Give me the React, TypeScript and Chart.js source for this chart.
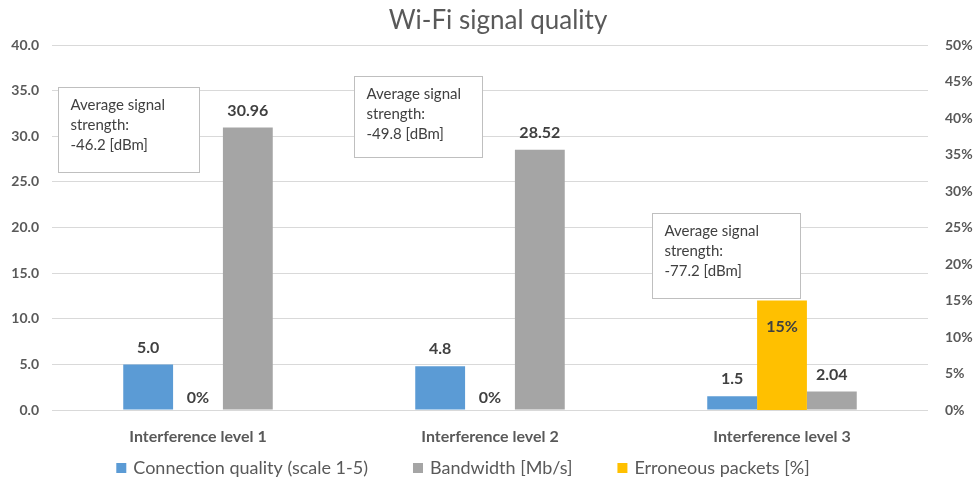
import React, { useEffect, useRef } from 'react';
import { Chart, registerables } from 'chart.js';

Chart.register(...registerables);

const categories = ['Interference level 1', 'Interference level 2', 'Interference level 3'];
const connectionQuality = [5.0, 4.8, 1.5];
const erroneousPackets = [0, 0, 15];
const bandwidth = [30.96, 28.52, 2.04];
const signalStrength = [-46.2, -49.8, -77.2];
const seriesNames = ['Connection quality (scale 1-5)', 'Erroneous packets [%]', 'Bandwidth [Mb/s]'];
const legendOrder = [0, 2, 1];

const BLUE = '#5B9BD5';
const YELLOW = '#FFC000';
const GRAY = '#A5A5A5';
const TEXT = '#595959';
const LABEL = '#404040';
const FONT = 'Lato, "Open Sans", sans-serif';

// annotation box placement: offset from category centre (px), top in left-axis units, size (px)
const boxLayout = [
  { dx: -140, top: 35.4, w: 141, h: 85 },
  { dx: -136, top: 36.6, w: 128, h: 81 },
  { dx: -130, top: 21.6, w: 148, h: 85 },
];

const formatters = [
  (v: number) => v.toFixed(1),
  (v: number) => `${v}%`,
  (v: number) => v.toFixed(2),
];

const overlayPlugin = {
  id: 'overlay',
  afterDatasetsDraw(chart: any) {
    const ctx = chart.ctx as CanvasRenderingContext2D;
    ctx.save();
    // data labels
    ctx.font = `bold 16px ${FONT}`;
    ctx.fillStyle = LABEL;
    ctx.textAlign = 'center';
    ctx.textBaseline = 'middle';
    chart.data.datasets.forEach((ds: any, di: number) => {
      const meta = chart.getDatasetMeta(di);
      meta.data.forEach((bar: any, i: number) => {
        const v = ds.data[i] as number;
        const txt = formatters[di](v);
        let y: number;
        if (di === 1) {
          const h = bar.base - bar.y;
          y = h > 40 ? bar.y + 26 : bar.base - 12;
        } else {
          y = bar.y - 17;
        }
        ctx.fillText(txt, bar.x, y);
      });
    });
    // annotation boxes
    const xs = chart.scales.x;
    const ys = chart.scales.y;
    signalStrength.forEach((s, i) => {
      const b = boxLayout[i];
      const left = Math.round(xs.getPixelForValue(i) + b.dx) + 0.5;
      const top = Math.round(ys.getPixelForValue(b.top)) + 0.5;
      ctx.fillStyle = '#FFFFFF';
      ctx.fillRect(left, top, b.w, b.h);
      ctx.strokeStyle = '#BFBFBF';
      ctx.lineWidth = 1;
      ctx.strokeRect(left, top, b.w, b.h);
      ctx.fillStyle = LABEL;
      ctx.font = `15px ${FONT}`;
      ctx.textAlign = 'left';
      ctx.textBaseline = 'middle';
      const lines = ['Average signal', 'strength:', `${s.toFixed(1)} [dBm]`];
      lines.forEach((ln, k) => ctx.fillText(ln, left + 12, top + 18 + k * 20));
    });
    ctx.restore();
  },
  afterDraw(chart: any) {
    const ctx = chart.ctx as CanvasRenderingContext2D;
    ctx.save();
    // title
    ctx.font = `26px ${FONT}`;
    ctx.fillStyle = TEXT;
    ctx.textAlign = 'center';
    ctx.textBaseline = 'middle';
    ctx.fillText('Wi-Fi signal quality', 498, 21);
    // legend
    ctx.font = `18px ${FONT}`;
    const colors = chart.data.datasets.map((d: any) => d.backgroundColor);
    const gap = 45;
    const box = 10;
    const boxGap = 7;
    const widths = legendOrder.map((di) => ctx.measureText(seriesNames[di]).width);
    const total = widths.reduce((a, w) => a + box + boxGap + w, 0) + gap * (legendOrder.length - 1);
    let x = 463 - total / 2;
    const y = 468;
    ctx.textAlign = 'left';
    legendOrder.forEach((di, k) => {
      ctx.fillStyle = colors[di];
      ctx.fillRect(x, y - 5, box, box);
      ctx.fillStyle = TEXT;
      ctx.fillText(seriesNames[di], x + box + boxGap, y);
      x += box + boxGap + widths[k] + gap;
    });
    ctx.restore();
  },
};

export default function App() {
  const ref = useRef<HTMLCanvasElement | null>(null);
  useEffect(() => {
    document.body.style.margin = '0';
    const chart = new Chart(ref.current as HTMLCanvasElement, {
      type: 'bar',
      data: {
        labels: categories,
        datasets: [
          { label: seriesNames[0], data: connectionQuality, backgroundColor: BLUE, yAxisID: 'y' },
          { label: seriesNames[1], data: erroneousPackets, backgroundColor: YELLOW, yAxisID: 'y1' },
          { label: seriesNames[2], data: bandwidth, backgroundColor: GRAY, yAxisID: 'y' },
        ],
      },
      options: {
        animation: false,
        responsive: false,
        categoryPercentage: 0.512,
        barPercentage: 1.0,
        layout: { padding: { top: 45, left: 0, right: 0, bottom: 0 } },
        plugins: {
          legend: { display: false },
          title: { display: false },
          tooltip: { enabled: false },
        },
        scales: {
          x: {
            grid: { display: false },
            border: { display: false },
            ticks: {
              font: { family: FONT, size: 16, weight: 'bold' },
              color: TEXT,
              padding: 9,
            },
            afterFit: (s: any) => { s.height = 74; },
          },
          y: {
            position: 'left',
            min: 0,
            max: 40,
            ticks: {
              stepSize: 5,
              callback: (v: any) => Number(v).toFixed(1),
              font: { family: FONT, size: 14, weight: 'bold' },
              color: TEXT,
              padding: 13,
            },
            grid: { color: '#D9D9D9', drawTicks: false },
            border: { display: false },
            afterFit: (s: any) => { s.width = 52; },
          },
          y1: {
            position: 'right',
            min: 0,
            max: 50,
            ticks: {
              stepSize: 5,
              callback: (v: any) => `${v}%`,
              font: { family: FONT, size: 14, weight: 'bold' },
              color: TEXT,
              padding: 17,
            },
            grid: { display: false, drawTicks: false },
            border: { display: false },
            afterFit: (s: any) => { s.width = 52; },
          },
        },
      },
      plugins: [overlayPlugin],
    } as any);
    return () => chart.destroy();
  }, []);
  return (
    <div style={{ position: 'absolute', left: 0, top: 0, width: 980, height: 484, background: '#fff' }}>
      <canvas ref={ref} width={980} height={484} />
    </div>
  );
}
